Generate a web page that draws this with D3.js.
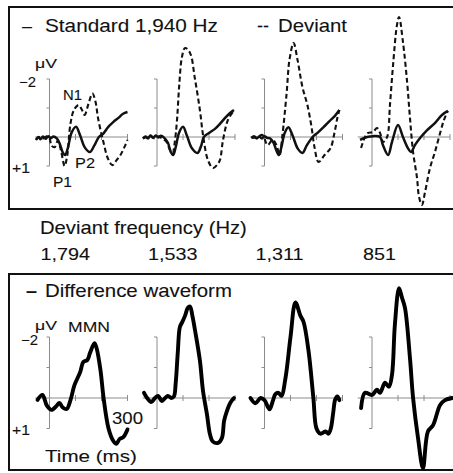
<!DOCTYPE html>
<html lang="en">
<head>
  <meta charset="UTF-8" />
  <title>Mismatch negativity waveforms</title>
  <script src="https://d3js.org/d3.v7.min.js"></script>
  <style>
    body {
      margin: 0;
      background: #fff;
    }
    svg {
      display: block;
    }
    text {
      font-family: 'Liberation Sans', Arial, sans-serif;
      fill: #111;
      stroke: #111;
      stroke-width: 0.1;
    }
    .frame {
      fill: none;
      stroke: #111;
      stroke-width: 2;
    }
    .axis {
      stroke: #8c8c8c;
      stroke-width: 1;
      fill: none;
    }
    .std {
      fill: none;
      stroke: #111;
      stroke-width: 2.5;
      stroke-linejoin: round;
    }
    .dev {
      fill: none;
      stroke: #111;
      stroke-width: 2.1;
      stroke-dasharray: 5, 3;
    }
    .diff {
      fill: none;
      stroke: #000;
      stroke-width: 3.9;
      stroke-linejoin: round;
      stroke-linecap: round;
    }
  </style>
</head>
<body>
  <svg width="453" height="473"></svg>

  <script>
    // deviant tone per column (standard is 1,940 Hz everywhere)
    const deviantFreqs = ["1,794", "1,533", "1,311", "851"];
    const timeTicks = [100, 200, 300];
    const voltTicks = [-2, -1, 1];

    // [ms, µV]; negative is up
    const std1794 = [[-52,0.1],[-42,0.0],[-35,0.08],[-25,-0.02],[-15,0.06],[-5,-0.03],[5,0.04],[15,-0.02],[28,0.05],[40,0.25],[52,0.55],[60,0.62],[70,0.4],[85,-0.15],[102,-0.35],[118,-0.05],[135,0.35],[155,0.52],[172,0.3],[190,0.0],[205,-0.1],[227,-0.36],[246,-0.52],[265,-0.66],[283,-0.8],[300,-0.86]];
    const dev1794 = [[-52,0.1],[-40,0.0],[-25,0.05],[-10,-0.02],[0,0.05],[8,0.3],[20,0.35],[32,0.12],[45,0.5],[58,1.0],[68,0.65],[81,-0.48],[95,-0.95],[112,-1.1],[124,-0.95],[135,-0.76],[150,-1.15],[165,-1.5],[176,-1.25],[188,-0.59],[208,0.2],[225,0.75],[242,0.97],[258,0.8],[273,0.62],[288,0.35],[300,0.1]];

    const std1533 = [[-54,0.05],[-45,-0.02],[-35,0.05],[-25,-0.05],[-15,0.03],[-5,-0.05],[5,0.02],[15,-0.04],[28,0.03],[42,0.2],[52,0.5],[62,0.62],[72,0.35],[85,-0.15],[100,-0.35],[115,-0.05],[135,0.4],[156,0.55],[170,0.3],[180,0.0],[200,-0.14],[223,-0.28],[242,-0.45],[262,-0.66],[280,-0.82],[296,-0.93]];
    const dev1533 = [[-54,0.05],[-40,0.0],[-25,-0.05],[-10,0.05],[5,-0.02],[20,0.05],[35,0.15],[48,0.4],[60,0.55],[68,0.2],[77,-0.59],[85,-1.72],[96,-2.76],[108,-3.07],[127,-2.9],[146,-2.0],[165,-0.93],[177,-0.07],[196,0.8],[215,1.07],[232,0.95],[242,0.8],[254,0.1],[273,-0.59],[292,-0.86]];

    const std1311 = [[-50,0.03],[-40,-0.03],[-30,0.05],[-20,-0.02],[-10,0.05],[0,-0.03],[10,0.03],[22,0.05],[35,0.2],[45,0.45],[55,0.62],[65,0.35],[78,-0.15],[92,-0.34],[108,-0.05],[128,0.4],[146,0.55],[162,0.3],[185,0.0],[205,-0.15],[228,-0.35],[250,-0.55],[270,-0.72],[288,-0.93]];
    const dev1311 = [[-50,0.03],[-27,0.0],[-8,-0.07],[12,0.28],[31,0.1],[46,0.28],[58,0.62],[69,-0.07],[85,-1.5],[96,-2.66],[112,-3.24],[127,-2.66],[146,-1.72],[165,-1.1],[181,-0.34],[192,0.34],[208,0.86],[231,0.62],[254,0.38],[269,-0.14],[281,-0.69],[288,-0.93]];

    const std851 = [[-46,0.1],[-19,0.0],[4,-0.03],[31,0.0],[42,0.28],[62,0.62],[77,0.17],[100,-0.41],[119,0.0],[138,0.38],[150,0.52],[165,0.28],[188,0.0],[212,-0.24],[242,-0.48],[269,-0.76],[292,-0.9]];
    const dev851 = [[-42,0.38],[-27,0.0],[-15,-0.14],[4,-0.17],[19,-0.31],[31,-0.14],[42,0.17],[58,0.0],[69,-1.1],[81,-2.48],[96,-3.86],[104,-4.14],[119,-3.28],[135,-1.9],[146,-0.66],[158,0.52],[173,1.4],[181,2.07],[192,2.34],[204,1.9],[223,1.07],[242,0.52],[262,-0.14],[277,-0.59],[292,-0.9]];

    // deviant minus standard
    const diff1794 = [[-46,0.06],[-27,-0.1],[-10,0.25],[8,0.39],[27,0.26],[38,0.16],[50,0.3],[66,0.36],[81,0.06],[96,-0.42],[118,-0.85],[130,-1.18],[146,-1.25],[156,-1.48],[173,-1.8],[181,-1.64],[196,-0.92],[208,0.0],[227,1.0],[245,1.4],[257,1.5],[270,1.34],[284,1.28],[300,1.03]];
    const diff1533 = [[-50,-0.17],[-38,0.0],[-22,0.13],[-8,0.0],[4,-0.07],[19,0.1],[31,0.0],[42,-0.07],[55,0.0],[65,-0.05],[72,-0.5],[80,-1.5],[88,-2.33],[96,-2.47],[108,-2.7],[118,-2.95],[127,-3.0],[136,-2.7],[146,-2.23],[165,-1.23],[177,-0.23],[192,0.53],[204,1.2],[215,1.43],[235,1.47],[250,1.3],[258,0.75],[269,0.43],[281,0.17],[296,0.0]];
    const diff1311 = [[-54,0.0],[-35,0.17],[-15,0.0],[0,0.07],[19,0.37],[32,0.1],[42,-0.13],[54,-0.17],[65,-0.07],[81,-0.67],[100,-2.0],[119,-3.13],[138,-2.7],[150,-2.5],[169,-1.57],[188,0.0],[200,1.0],[215,1.17],[235,1.1],[246,1.17],[255,1.0],[264,0.5],[272,0.05],[280,-0.05],[288,0.07]];
    const diff851 = [[-42,0.33],[-27,-0.17],[0,-0.1],[19,-0.27],[31,-0.17],[50,-0.5],[65,-0.37],[77,-0.77],[88,-2.4],[104,-3.6],[115,-3.3],[127,-2.95],[146,-1.31],[158,0.0],[177,1.31],[196,2.3],[215,1.1],[235,0.89],[262,0.23],[281,0.07],[308,0.0]];

    const standards = [std1794, std1533, std1311, std851];
    const deviants = [dev1794, dev1533, dev1311, dev851];
    const diffs = [diff1794, diff1533, diff1311, diff851];

    const svg = d3.select("svg");

    // column origin (0 ms) for each deviant
    const colX = d3.scalePoint().domain(deviantFreqs).range([49.5, 372]);
    const yTop = d3.scaleLinear().domain([-2, 1]).range([79, 166]);
    const yBot = d3.scaleLinear().domain([-2, 1]).range([337, 428.5]);

    // the original lettering is wider than Liberation Sans: stretch glyphs sideways
    function label(x, y, size, str, width) {
      const t = svg.append("text")
        .style("font-size", size + "px").text(str);
      const natural = t.node().getComputedTextLength();
      const k = width ? width / natural : 1.2;
      t.attr("transform", `translate(${x},${y}) scale(${k},1)`);
      return t;
    }

    // frames (right edge runs off the page)
    svg.append("path").attr("class", "frame").attr("d", "M460,7H9V209H460");
    svg.append("path").attr("class", "frame").attr("d", "M460,274H9V470H460");

    function drawPanel(g, x, y) {
      g.append("line").attr("class", "axis")
        .attr("x1", x(-55)).attr("x2", x(300))
        .attr("y1", y(0)).attr("y2", y(0));
      g.selectAll("line.tt").data(timeTicks).join("line")
        .attr("class", "axis tt")
        .attr("x1", d => x(d)).attr("x2", d => x(d))
        .attr("y1", y(0) - 3).attr("y2", y(0) + 3);
      g.append("line").attr("class", "axis")
        .attr("x1", x(0)).attr("x2", x(0))
        .attr("y1", y(-2)).attr("y2", y(1));
      g.selectAll("line.vt").data(voltTicks).join("line")
        .attr("class", "axis vt")
        .attr("x1", x(0) - 3).attr("x2", x(0))
        .attr("y1", d => y(d)).attr("y2", d => y(d));
    }

    deviantFreqs.forEach((f, i) => {
      const x0 = colX(f);
      const x = d3.scaleLinear().domain([0, 300]).range([x0, x0 + 78]);
      const lineTop = d3.line().x(d => x(d[0])).y(d => yTop(d[1])).curve(d3.curveCatmullRom.alpha(0.5));
      const lineBot = d3.line().x(d => x(d[0])).y(d => yBot(d[1])).curve(d3.curveCatmullRom.alpha(0.5));

      const gt = svg.append("g");
      drawPanel(gt, x, yTop);
      gt.append("path").attr("class", "std").attr("d", lineTop(standards[i]));
      gt.append("path").attr("class", "dev").attr("d", lineTop(deviants[i]));

      const gb = svg.append("g");
      drawPanel(gb, x, yBot);
      gb.append("path").attr("class", "diff").attr("d", lineBot(diffs[i]));

      label(x0 - 9, 260, 16.5, f);
    });

    // legends and headings
    label(22, 32, 17.5, "–", 10);
    label(45, 32, 17.5, "Standard 1,940 Hz", 173);
    label(257, 32, 17.5, "--", 12);
    label(278, 32, 17.5, "Deviant", 69);
    label(40, 234, 17.5, "Deviant frequency (Hz)", 207);
    label(26, 297, 17.5, "–", 11).style("font-weight", "bold");
    label(45, 297, 17.5, "Difference waveform", 187);

    // top panel annotations
    label(35, 68, 13.5, "μV", 22);
    label(19, 87, 14, "−2", 17);
    label(12, 173, 14, "+1", 18);
    label(63, 100, 14, "N1", 19);
    label(53, 187, 14, "P1", 19);
    label(75, 168, 14, "P2", 20);

    // bottom panel annotations
    label(35, 330, 13.5, "μV", 22);
    label(68, 332, 15, "MMN", 42);
    label(21, 345, 14, "−2", 17);
    label(12, 435, 14, "+1", 18);
    label(112, 424, 17, "300", 31);
    label(45, 462, 17, "Time (ms)", 92);
  </script>
</body>
</html>
